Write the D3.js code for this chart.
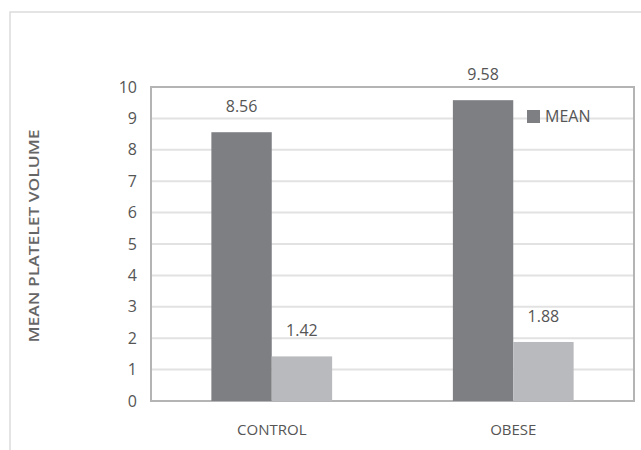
<!DOCTYPE html>
<html>
<head>
<meta charset="utf-8">
<script src="https://cdn.jsdelivr.net/npm/d3@7"></script>
<style>
  html, body { margin: 0; padding: 0; background: #fff; }
  svg { display: block; }
  text { font-family: "Open Sans", "Liberation Sans", Arial, sans-serif; }
</style>
</head>
<body>
<svg id="chart" width="641" height="450"></svg>
<script>
const categories = ["CONTROL", "OBESE"];
const seriesNames = ["MEAN", "SD"];
const meanValues = [8.56, 9.58];
const sdValues = [1.42, 1.88];
const yTicks = [0, 1, 2, 3, 4, 5, 6, 7, 8, 9, 10];
const yTitle = "MEAN PLATELET VOLUME";
const legendLabels = ["MEAN"];

const colors = { MEAN: "#7e7f83", SD: "#b9babd" };

const svg = d3.select("#chart");
const W = 641, H = 450;
const m = { left: 151, right: 7, top: 87, bottom: 49 };
const pw = W - m.left - m.right, ph = H - m.top - m.bottom;

svg.append("path")
  .attr("d", `M10,${H} L10,12 L${W},12`)
  .attr("fill", "none").attr("stroke", "#dcdcdc").attr("stroke-width", 1.5);

const g = svg.append("g").attr("transform", `translate(${m.left},${m.top})`);

const y = d3.scaleLinear().domain([0, 10]).range([ph, 0]);
const x0 = d3.scaleBand().domain(categories).range([0, pw]).padding(0);
const x1 = d3.scaleBand().domain(seriesNames)
  .range([x0.bandwidth() * 0.25, x0.bandwidth() * 0.75]).padding(0);

g.append("g").selectAll("line").data(yTicks.filter(t => t > 0 && t < 10)).join("line")
  .attr("x1", 0).attr("x2", pw)
  .attr("y1", d => y(d)).attr("y2", d => y(d))
  .attr("stroke", "#e2e2e2").attr("stroke-width", 2);

g.append("rect").attr("x", 0).attr("y", 0).attr("width", pw).attr("height", ph)
  .attr("fill", "none").attr("stroke", "#b4b4b4").attr("stroke-width", 2);

const yAxis = d3.axisLeft(y).tickValues(yTicks).tickSize(0).tickPadding(14);
const ya = g.append("g").call(yAxis);
ya.select(".domain").remove();
ya.selectAll("text").attr("font-size", 16).attr("fill", "#555")
  .style("font-family", '"Open Sans", "Liberation Sans", sans-serif');

const xAxis = d3.axisBottom(x0).tickSize(0).tickPadding(23);
const xa = g.append("g").attr("transform", `translate(0,${ph})`).call(xAxis);
xa.select(".domain").remove();
xa.selectAll("text").attr("font-size", 15).attr("fill", "#555")
  .style("font-family", '"Open Sans", "Liberation Sans", sans-serif');

const rows = categories.map((c, i) => ({ cat: c, vals: [
  { key: "MEAN", v: meanValues[i] }, { key: "SD", v: sdValues[i] } ] }));

const grp = g.selectAll(".grp").data(rows).join("g")
  .attr("transform", d => `translate(${x0(d.cat)},0)`);

grp.selectAll("rect").data(d => d.vals).join("rect")
  .attr("x", d => x1(d.key)).attr("width", x1.bandwidth())
  .attr("y", d => y(d.v)).attr("height", d => ph - y(d.v))
  .attr("fill", d => colors[d.key]);

grp.selectAll("text").data(d => d.vals).join("text")
  .attr("x", d => x1(d.key) + x1.bandwidth() / 2)
  .attr("y", d => y(d.v) - 20)
  .attr("text-anchor", "middle")
  .attr("font-size", 16).attr("fill", "#555")
  .text(d => d.v.toFixed(2));

const lg = g.append("g").attr("transform", `translate(${376},${23})`);
legendLabels.forEach((l, i) => {
  lg.append("rect").attr("x", 0).attr("y", i * 20).attr("width", 13).attr("height", 13)
    .attr("fill", colors[l]);
  lg.append("text").attr("x", 18).attr("y", i * 20 + 12)
    .attr("font-size", 16).attr("fill", "#555").text(l);
});

svg.append("text")
  .attr("transform", `translate(39,${m.top + ph / 2 - 8}) rotate(-90)`)
  .attr("text-anchor", "middle")
  .attr("font-size", 15).attr("font-weight", 600).attr("fill", "#666")
  .attr("textLength", 213).attr("lengthAdjust", "spacingAndGlyphs")
  .text(yTitle);
</script>
</body>
</html>
